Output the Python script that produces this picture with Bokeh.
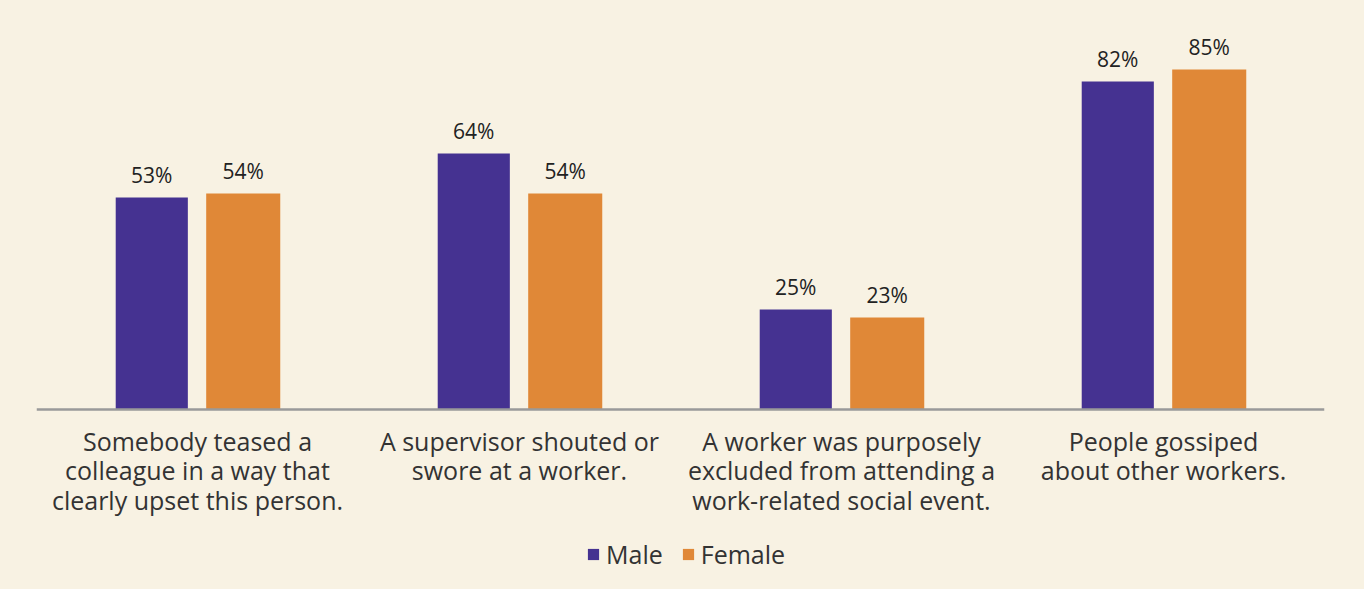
from bokeh.plotting import figure
from bokeh.models import FactorRange, Range1d, Legend, LegendItem, ColumnDataSource
from bokeh.transform import dodge
from bokeh.core.properties import value
from bokeh.embed import file_html
from bokeh.resources import INLINE

# ---- data ----
categories = [
    "Somebody teased a\ncolleague in a way that\nclearly upset this person.",
    "A supervisor shouted or\nswore at a worker.",
    "A worker was purposely\nexcluded from attending a\nwork-related social event.",
    "People gossiped\nabout other workers.",
]
male = [53, 64, 25, 82]
female = [54, 54, 23, 85]
series_names = ["Male", "Female"]

BG = "#F8F2E3"
PURPLE = "#453291"
ORANGE = "#E08837"
FONT = "Open Sans"

src = ColumnDataSource(dict(
    cat=categories, male=male, female=female,
    male_lbl=[f"{v}%" for v in male], female_lbl=[f"{v}%" for v in female],
))

# x frame spans pixels 36..1324 ; y: 4 px per percentage point, 0 at pixel 409
p = figure(width=1364, height=589, x_range=FactorRange(*categories), y_range=Range1d(-45, 102.25),
           output_backend="svg", toolbar_location=None,
           min_border_left=36, min_border_right=40, min_border_top=0, min_border_bottom=0)
p.background_fill_color = BG
p.border_fill_color = BG
p.outline_line_color = None
p.xgrid.visible = False
p.ygrid.visible = False
p.yaxis.visible = False
p.x_range.range_padding = 0

rm = p.vbar(x=dodge("cat", -0.142, range=p.x_range), top="male", bottom=0, width=0.224, source=src,
            fill_color=PURPLE, line_color=None)
rf = p.vbar(x=dodge("cat", 0.142, range=p.x_range), top="female", bottom=0, width=0.23, source=src,
            fill_color=ORANGE, line_color=None)

for off, col in ((-0.142, "male"), (0.142, "female")):
    p.text(x=dodge("cat", off, range=p.x_range), y=col, text=f"{col}_lbl", source=src,
           text_align="center", text_baseline="alphabetic", y_offset=-23,
           text_font=value(FONT), text_font_size="21px", text_color="#222222")

ax = p.xaxis[0]
ax.fixed_location = 0
ax.axis_line_color = "#9a9a9a"
ax.axis_line_width = 2.5
ax.major_tick_line_color = None
ax.minor_tick_line_color = None
ax.major_tick_out = 0
ax.major_tick_in = 0
ax.major_label_standoff = 14
ax.major_label_text_font = FONT
ax.major_label_text_font_size = "25px"
ax.major_label_text_line_height = 0.88
ax.major_label_text_color = "#333333"
ax.major_label_orientation = "horizontal"

legend = Legend(items=[LegendItem(label=series_names[0], renderers=[rm]),
                       LegendItem(label=series_names[1], renderers=[rf])],
                orientation="horizontal", location=(550, 18),
                background_fill_alpha=0, border_line_color=None,
                label_text_font=FONT, label_text_font_size="25px", label_text_color="#333333",
                glyph_width=14, glyph_height=14, label_standoff=6, spacing=18, padding=0,
                margin=0)
p.add_layout(legend, "center")

html = file_html(p, INLINE)
html = html.replace("</head>", "<style>body{background:%s;}</style></head>" % BG, 1)
open("out.html", "w").write(html)
